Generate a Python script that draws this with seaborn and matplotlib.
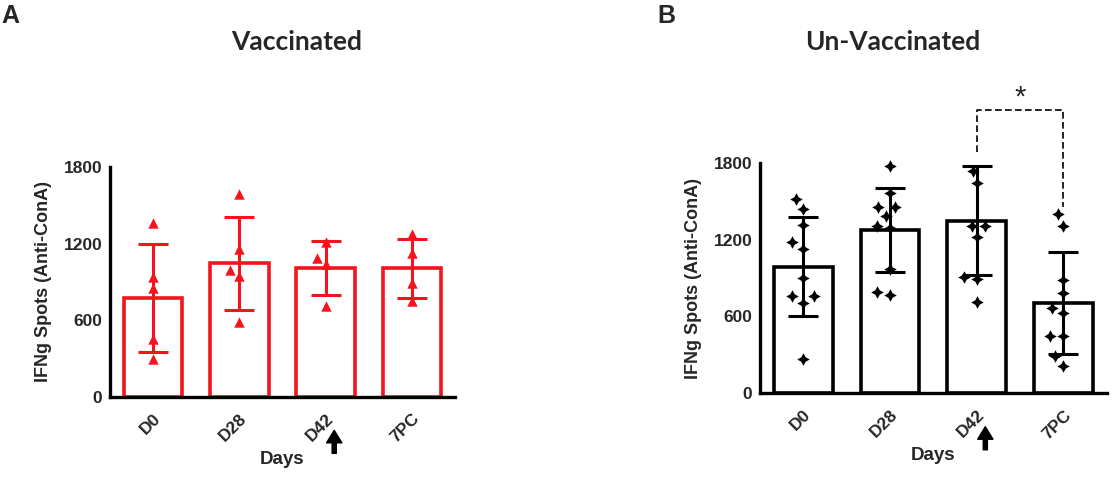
import matplotlib
matplotlib.use("Agg")
import matplotlib.pyplot as plt
import seaborn as sns
import pandas as pd

days = ["D0", "D28", "D42", "7PC"]
y_ticks = [0, 600, 1200, 1800]

# vaccinated group (red triangles)
vac_mean = [775, 1046, 1007, 1007]
vac_sd = [420, 365, 210, 230]
vac_d0 = [1364, 941, 850, 451, 295]
vac_d28 = [1589, 1156, 994, 949, 587]
vac_d42 = [1211, 1090, 1041, 715]
vac_7pc = [1273, 1124, 894, 751]

# un-vaccinated group (black stars)
unvac_mean = [988, 1275, 1347, 707]
unvac_sd = [386, 330, 425, 398]
unvac_d0 = [1517, 1436, 1316, 1179, 1129, 898, 760, 760, 707, 270]
unvac_d28 = [1775, 1566, 1457, 1457, 1384, 1308, 1290, 970, 793, 767]
unvac_d42 = [1738, 1644, 1308, 1308, 1218, 905, 890, 715]
unvac_7pc = [1397, 1308, 884, 786, 668, 624, 447, 447, 293, 216]

# significance bracket D42 vs 7PC (un-vaccinated)
sig_left, sig_top, sig_right = 1886, 2212, 1457

RED = "#f5141e"
AXIS_FONT = "Liberation Sans"


def long_df(groups):
    rows = []
    for day, vals in zip(days, groups):
        for v in vals:
            rows.append({"day": day, "spots": v})
    return pd.DataFrame(rows)


def draw_panel(ax, means, sds, points, color, marker, msize):
    sns.barplot(x=days, y=means, order=days, color="white", edgecolor=color,
                linewidth=2.6, width=0.68, errorbar=None, ax=ax, zorder=2)
    ax.errorbar(range(len(days)), means, yerr=sds, fmt="none", ecolor=color,
                elinewidth=2.2, capsize=11, capthick=2.2, zorder=3)
    sns.swarmplot(data=long_df(points), x="day", y="spots", order=days,
                  color=color, marker=marker, size=msize, linewidth=0,
                  ax=ax, zorder=4)
    for c in ax.collections:
        c.set_clip_on(False)

    ax.set_ylim(0, 1800)
    ax.set_xlim(-0.5, 3.5)
    ax.set_yticks(y_ticks)
    ax.set_yticklabels([str(t) for t in y_ticks], fontfamily=AXIS_FONT,
                       fontweight="bold", fontsize=12.5)
    ax.set_xticks(range(len(days)))
    ax.set_xticklabels(days, rotation=45, ha="right", rotation_mode="anchor",
                       fontfamily=AXIS_FONT, fontweight="bold", fontsize=12.5)
    ax.tick_params(axis="y", length=4.5, width=2.2, pad=1)
    ax.tick_params(axis="x", length=6, width=2.2, pad=4)
    for s in ["top", "right"]:
        ax.spines[s].set_visible(False)
    for s in ["left", "bottom"]:
        ax.spines[s].set_linewidth(2.4)
        ax.spines[s].set_color("black")
    ax.set_xlabel("Days", fontfamily=AXIS_FONT, fontweight="bold",
                  fontsize=13.5, labelpad=4)
    ax.set_ylabel("IFNg Spots (Anti-ConA)", fontfamily=AXIS_FONT,
                  fontweight="bold", fontsize=13, labelpad=8)

    # booster arrow under D42
    ax.annotate("", xy=(2.1, -0.145), xycoords=ax.get_xaxis_transform(),
                xytext=(2.1, -0.245), textcoords=ax.get_xaxis_transform(),
                arrowprops=dict(facecolor="black", edgecolor="black",
                                width=3, headwidth=11, headlength=9))


sns.set_style("white")
fig = plt.figure(figsize=(11.14, 4.78), dpi=100)
ax_a = fig.add_axes([0.0987, 0.1695, 0.3097, 0.4812])
ax_b = fig.add_axes([0.6822, 0.1772, 0.3112, 0.4824])

draw_panel(ax_a, vac_mean, vac_sd, [vac_d0, vac_d28, vac_d42, vac_7pc],
           RED, "^", 7.5)
draw_panel(ax_b, unvac_mean, unvac_sd,
           [unvac_d0, unvac_d28, unvac_d42, unvac_7pc],
           "black", (4, 1, 0), 9)

ax_b.plot([2, 2, 3, 3], [sig_left, sig_top, sig_top, sig_right],
          color="black", lw=1.2, ls=(0, (4, 2)), clip_on=False)
ax_b.text(2.5, sig_top - 10, "*", ha="center", va="bottom", fontsize=21,
          fontfamily=AXIS_FONT)

fig.text(297 / 1114, 1 - 42 / 478, "Vaccinated", ha="center", va="center",
         fontfamily="Lato", fontweight="bold", fontsize=19)
fig.text(893 / 1114, 1 - 42 / 478, "Un-Vaccinated", ha="center", va="center",
         fontfamily="Lato", fontweight="bold", fontsize=19)
fig.text(10 / 1114, 1 - 16 / 478, "A", ha="center", va="center",
         fontfamily=AXIS_FONT, fontweight="bold", fontsize=18)
fig.text(666 / 1114, 1 - 16 / 478, "B", ha="center", va="center",
         fontfamily=AXIS_FONT, fontweight="bold", fontsize=18)

fig.savefig("out.png", dpi=100)
